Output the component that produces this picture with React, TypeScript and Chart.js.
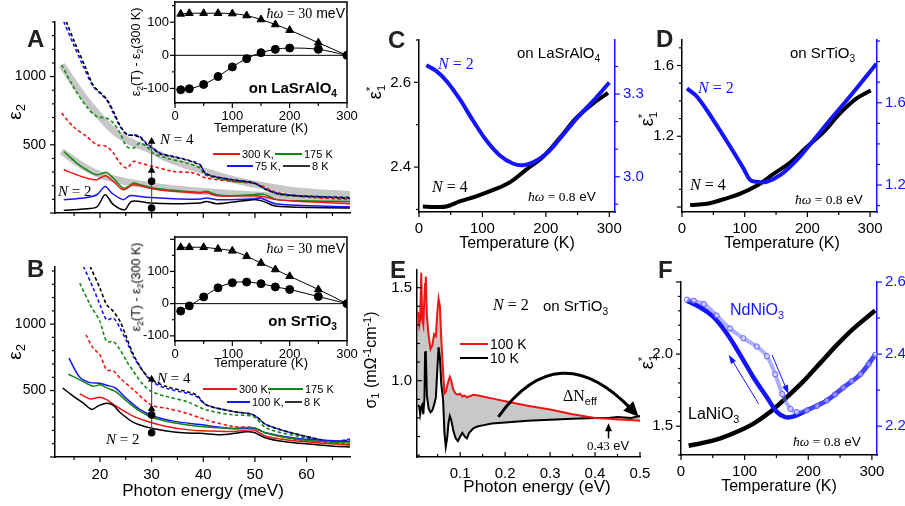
import React, { useEffect, useRef } from 'react';
import { Chart, registerables } from 'chart.js';

Chart.register(...registerables);

const SANS = '"Liberation Sans", Arial, Helvetica, sans-serif';
const SERIF = '"Liberation Serif", "Times New Roman", serif';
const RED = '#f01414';
const GREEN = '#108a10';
const BLUE = '#1414ff';
const GRAYFIT = '#c6c6c6';

type P = [number, number];

// ---------- Panel A (LaSrAlO4), eps2 vs photon energy (meV) ----------
const A_N2_300K: P[] = [[13, 317], [15.5, 280], [17.4, 256], [19.4, 244], [21, 273], [22.6, 232], [24.5, 171], [26.5, 207], [30.3, 176], [34.2, 159], [39.4, 146], [40.6, 150], [42.6, 127], [49.7, 127], [51.6, 120], [54.2, 98], [58.7, 85], [68.4, 68]];
const A_N2_175K: P[] = [[13, 451], [15.5, 366], [17.4, 317], [19.4, 280], [20.6, 293], [21.3, 298], [22.6, 256], [24.5, 183], [25.5, 195], [26.5, 220], [27.7, 207], [30.3, 183], [34.2, 166], [39.4, 151], [40.6, 159], [42.6, 134], [45.8, 127], [49.7, 134], [51.6, 139], [54.2, 98], [58.7, 90], [68.4, 85]];
const A_N2_75K: P[] = [[13, 98], [16.8, 110], [19.4, 134], [21, 195], [22.3, 146], [24.5, 98], [25.8, 127], [29, 115], [34.2, 105], [39.4, 102], [40.6, 110], [42.6, 98], [49.7, 102], [51, 110], [54.2, 66], [68.4, 44]];
const A_N2_8K: P[] = [[13, 20], [16.8, 29], [19.4, 44], [21, 134], [22.6, 61], [24.8, 24], [26.1, 85], [29.7, 73], [34.2, 68], [39.4, 73], [40.6, 85], [42.6, 68], [49.7, 98], [51.6, 85], [54.2, 49], [68.4, 37]];
const A_N4_300K: P[] = [[12.6, 732], [14.8, 634], [17.4, 561], [19.4, 500], [21.3, 488], [22.6, 439], [23.9, 366], [25.2, 329], [26.5, 378], [27.7, 366], [30.3, 341], [34.2, 305], [38.1, 293], [40.6, 256], [45.8, 232], [50.9, 207], [53.5, 159], [58.7, 122], [68.4, 98]];
const A_N4_175K: P[] = [[12.6, 1085], [14.8, 927], [17.4, 780], [19.4, 707], [21.3, 695], [22.6, 659], [23.9, 585], [25.2, 488], [26.5, 476], [27.7, 512], [29, 488], [30.3, 439], [32.9, 402], [36.8, 366], [39.4, 329], [40.3, 280], [45.8, 232], [49.7, 220], [52.3, 171], [54.8, 134], [58.7, 122], [68.4, 117]];
const A_N4_75K: P[] = [[13, 1402], [14.8, 1244], [16.8, 1073], [18.7, 927], [20, 878], [21.3, 829], [22.6, 732], [23.9, 634], [25.2, 573], [26.5, 573], [27.7, 561], [29, 512], [30.3, 476], [31.6, 439], [34.2, 415], [36.8, 390], [39.4, 354], [40.3, 293], [41.9, 268], [45.8, 244], [49.7, 220], [52.3, 171], [54.8, 141], [58.7, 127], [65.2, 117], [68.4, 110]];
const A_N4_8K: P[] = [[13.5, 1402], [15, 1260], [17, 1085], [18.7, 935], [20, 885], [21.3, 835], [22.6, 745], [23.9, 640], [25.2, 578], [26.5, 568], [27.7, 556], [29, 505], [30.3, 470], [31.6, 435], [34.2, 412], [36.8, 388], [39.4, 350], [40.3, 295], [41.9, 270], [45.8, 242], [49.7, 222], [52.3, 168], [54.8, 139], [58.7, 125], [65.2, 114], [68.4, 107]];
const A_FIT_N4: P[] = [[12.6, 1085], [16.8, 854], [20, 707], [23.2, 585], [26.5, 512], [29.7, 463], [32.9, 402], [39.4, 317], [45.8, 244], [52.3, 195], [58.7, 159], [68.4, 134]];
const A_FIT_N2: P[] = [[12.6, 451], [16.8, 341], [20, 280], [23.2, 244], [26.5, 220], [32.9, 183], [39.4, 159], [45.8, 141], [52.3, 127], [58.7, 110], [68.4, 98]];
const A_MARK: P[] = [[30, 524], [30, 312], [30, 232], [30, 37]];

// ---------- Panel B (SrTiO3) ----------
const B_N2_300K: P[] = [[16.1, 475], [18.1, 437], [20, 450], [21.3, 432], [23.2, 380], [26.4, 308], [29.7, 262], [32.9, 230], [36.8, 206], [39.4, 198], [45.8, 192], [49.7, 203], [52.3, 155], [58.7, 118], [68.4, 90]];
const B_N2_175K: P[] = [[13.9, 623], [15.6, 590], [17.4, 555], [18.7, 532], [20, 543], [21.3, 520], [22.9, 495], [25.2, 420], [27.7, 345], [30.3, 295], [34.2, 258], [39.4, 230], [45.8, 216], [49.7, 221], [52.3, 178], [58.7, 130], [68.4, 105]];
const B_N2_100K: P[] = [[14, 744], [16.1, 600], [18.1, 560], [20, 555], [21.3, 540], [22.9, 522], [25.2, 438], [27.7, 358], [30.3, 308], [34.2, 270], [39.4, 244], [45.8, 213], [49.7, 216], [52.3, 180], [58.7, 138], [68.4, 118]];
const B_N2_8K: P[] = [[12.8, 518], [14.5, 468], [16.8, 405], [18.4, 358], [19.7, 385], [21.3, 405], [22.6, 388], [23.9, 335], [26.4, 262], [29, 226], [32.9, 196], [36.8, 180], [39.4, 178], [43.2, 168], [45.8, 176], [48.4, 190], [49.7, 186], [52.3, 141], [55.5, 116], [58.7, 103], [65.2, 80], [68.4, 75]];
const B_N4_300K: P[] = [[17.3, 920], [18.7, 819], [20, 769], [21.3, 656], [22.6, 648], [23.9, 593], [26.5, 505], [30, 390], [32.9, 367], [36.8, 329], [40.6, 279], [45.8, 229], [49.7, 221], [52.3, 178], [58.7, 128], [68.4, 95]];
const B_N4_175K: P[] = [[16.1, 1309], [18.1, 1146], [20, 1020], [21.3, 869], [22.6, 869], [23.9, 807], [25.2, 719], [26.5, 643], [28.4, 543], [30, 492], [32.9, 455], [36.8, 417], [40.6, 354], [45.8, 317], [49.7, 304], [52.3, 216], [58.7, 153], [65.2, 111], [68.4, 121]];
const B_N4_100K: P[] = [[16.8, 1435], [18.7, 1271], [20, 1146], [21.3, 1033], [22.6, 1045], [23.9, 970], [25.2, 869], [26.5, 756], [28.4, 643], [30, 568], [32.9, 517], [36.8, 480], [38.7, 455], [40.6, 392], [45.8, 342], [49.7, 317], [52.3, 241], [58.7, 166], [65.2, 116], [68.4, 136]];
const B_N4_8K: P[] = [[18.1, 1435], [20, 1271], [21.3, 1146], [22.6, 1096], [23.9, 1020], [25.2, 895], [26.5, 769], [28.4, 643], [30, 580], [32.9, 530], [36.8, 492], [38.7, 467], [40.6, 392], [45.8, 342], [49.7, 317], [52.3, 241], [58.7, 166], [65.2, 116], [68.4, 128]];
const B_MARK: P[] = [[30, 585], [30, 362], [30, 317], [30, 182]];
const MARK_STYLES = ['triangle', 'triangle', 'circle', 'circle'];

const AB_X_TICKS = [20, 30, 40, 50, 60];
const AB_Y_TICKS = [500, 1000];

// ---------- Insets: eps2(T) - eps2(300 K) at 30 meV ----------
const INSET_T = [10, 25, 50, 75, 100, 125, 150, 175, 200, 250, 300];
const IA_N4 = [125, 127, 127, 127, 126, 120, 108, 93, 76, 38, 0];
const IA_N2 = [-104, -101, -88, -64, -35, -10, 8, 18, 22, 18, 0];
const IB_N4 = [175, 175, 175, 170, 164, 147, 126, 106, 85, 44, 0];
const IB_N2 = [-23, -7, 21, 49, 65, 67, 62, 52, 44, 22, 0];
const INSET_X_TICKS = [0, 100, 200, 300];
const INSET_Y_TICKS = [-100, 0, 100];

// ---------- Panel C (LaSrAlO4) eps1* at 0.8 eV ----------
const C_N4: P[] = [[6, 2.307], [25, 2.306], [43, 2.307], [64, 2.319], [90, 2.331], [117, 2.346], [143, 2.364], [169, 2.394], [196, 2.425], [222, 2.469], [248, 2.516], [275, 2.551], [298, 2.575]];
const C_N2: P[] = [[11.6, 3.404], [27, 3.384], [43, 3.348], [64, 3.282], [85, 3.204], [106, 3.132], [127, 3.078], [148, 3.048], [164, 3.042], [180, 3.052], [201, 3.084], [222, 3.138], [248, 3.21], [275, 3.276], [300, 3.342]];
const CD_X_TICKS = [0, 100, 200, 300];
const C_YL_TICKS = [2.4, 2.6];
const C_YR_TICKS = [3.0, 3.3];

// ---------- Panel D (SrTiO3) ----------
const D_N4: P[] = [[13, 0.811], [40, 0.819], [66, 0.844], [93, 0.876], [119, 0.92], [146, 0.987], [173, 1.053], [199, 1.139], [226, 1.225], [252, 1.33], [279, 1.415], [301, 1.459]];
const D_N2: P[] = [[8, 1.67], [24, 1.629], [50, 1.516], [77, 1.386], [98, 1.281], [109, 1.224], [119, 1.216], [135, 1.216], [157, 1.249], [183, 1.321], [210, 1.419], [236, 1.516], [263, 1.613], [289, 1.71], [310, 1.79]];
const D_YL_TICKS = [1.2, 1.6];
const D_YR_TICKS = [1.2, 1.6];

// ---------- Panel E: sigma1 vs photon energy (eV) ----------
const E_X = [0.006, 0.009, 0.011, 0.0135, 0.0155, 0.018, 0.0205, 0.022, 0.0235, 0.026, 0.03, 0.034, 0.038, 0.042, 0.046, 0.049, 0.052, 0.055, 0.058, 0.062, 0.065, 0.068, 0.071, 0.074, 0.077, 0.08, 0.085, 0.09, 0.095, 0.1, 0.105, 0.11, 0.115, 0.12, 0.13, 0.14, 0.15, 0.17, 0.2, 0.25, 0.3, 0.35, 0.4, 0.43, 0.45, 0.48, 0.5];
const E_100K = [1.37, 1.3, 1.33, 1.58, 1.33, 1.3, 1.45, 1.52, 1.56, 1.35, 1.24, 1.17, 1.19, 1.25, 1.24, 1.36, 1.44, 1.4, 1.22, 1.05, 0.93, 0.94, 0.97, 1.0, 1.02, 1.0, 0.95, 0.93, 0.925, 0.93, 0.915, 0.92, 0.91, 0.915, 0.925, 0.92, 0.915, 0.905, 0.89, 0.865, 0.845, 0.82, 0.8, 0.795, 0.792, 0.789, 0.785];
const E_10K = [0.87, 0.86, 0.82, 0.86, 0.87, 0.82, 0.9, 1.15, 1.16, 0.92, 0.85, 0.83, 0.84, 0.87, 0.91, 1.05, 1.18, 1.12, 0.98, 0.9, 0.72, 0.645, 0.69, 0.77, 0.81, 0.79, 0.73, 0.69, 0.675, 0.7, 0.72, 0.7, 0.69, 0.72, 0.745, 0.755, 0.76, 0.77, 0.775, 0.785, 0.79, 0.795, 0.8, 0.8, 0.805, 0.8, 0.81];
const E_X_TICKS = [0.1, 0.2, 0.3, 0.4, 0.5];
const E_Y_TICKS = [1.0, 1.5];
const E_ARC: P[] = [[0.185, 0.806], [0.33, 1.03], [0.497, 0.806]];
const E_MARK: P[] = [[0.43, 0.69], [0.43, 0.772]];

// ---------- Panel F: LaNiO3 / NdNiO3 ----------
const F_LA: P[] = [[12, 1.364], [36, 1.386], [62, 1.416], [88, 1.461], [114, 1.518], [140, 1.598], [166, 1.7], [193, 1.814], [219, 1.939], [245, 2.064], [271, 2.177], [305, 2.302]];
const F_ND_COOL: P[] = [[9.4, 2.548], [30, 2.53], [51, 2.503], [72, 2.457], [93, 2.398], [114, 2.335], [135, 2.28], [151, 2.239], [164, 2.225], [177, 2.227], [198, 2.244], [229, 2.271], [255, 2.307], [282, 2.344], [305, 2.398]];
const F_ND_HEAT: P[] = [[9.4, 2.551], [20, 2.548], [36, 2.539], [56, 2.507], [77, 2.471], [98, 2.444], [119, 2.421], [135, 2.394], [148, 2.344], [159, 2.289], [172, 2.248], [182, 2.239], [198, 2.244], [214, 2.256], [229, 2.271], [242, 2.288], [255, 2.307], [268, 2.325], [282, 2.344], [295, 2.372], [305, 2.398]];
const F_YL_TICKS = [1.5, 2.0];
const F_YR_TICKS = [2.2, 2.4, 2.6];
const F_ARROW_COOL: P[] = [[122, 1.655], [75, 1.995]];
const F_ARROW_HEAT: P[] = [[143, 1.995], [169, 1.723]];

// ================= helpers =================
const pts = (a: P[]) => a.map(([x, y]) => ({ x, y }));
const zipPts = (xs: number[], ys: number[]) => xs.map((x, i) => ({ x, y: ys[i] }));

type Geo = { x: number; y: number; w: number; h: number; mt: number; padRight: number; ml: number; mr: number; mb: number };
function geo(L: number, T: number, R: number, B: number, ml: number, mr: number, mt: number, mb: number, rightAxis = false): Geo {
  return { x: L - ml, y: T - mt, w: R - L + ml + mr, h: B - T + mt + mb, mt, padRight: rightAxis ? 0 : mr, ml, mr, mb };
}

function axis(o: { pos: 'left' | 'right' | 'bottom'; min: number; max: number; ticks: number[]; dec: number; size: number; color?: string; show?: boolean; pad?: number; fs?: number }) {
  const color = o.color || '#000';
  return {
    type: 'linear',
    position: o.pos,
    min: o.min,
    max: o.max,
    grid: { display: true, drawOnChartArea: false, drawTicks: false, color: 'rgba(0,0,0,0)' },
    border: { display: true, color, width: 1.5 },
    ticks: {
      display: o.show !== false,
      color,
      padding: o.pad ?? 8,
      autoSkip: false,
      maxRotation: 0,
      minRotation: 0,
      includeBounds: false,
      font: { family: SANS, size: o.fs ?? 15 },
      callback: (v: number) => Number(v).toFixed(o.dec),
    },
    afterBuildTicks: (s: any) => {
      s.ticks = o.ticks.map((value) => ({ value }));
    },
    afterFit: (s: any) => {
      if (o.pos === 'bottom') s.height = o.size;
      else s.width = o.size;
    },
  };
}

type TickSpec = { id: string; pos: 'left' | 'right' | 'bottom'; minor: number; major: number; dir?: 'in' | 'out'; color?: string };
function tickMarks(specs: TickSpec[]) {
  return {
    id: 'tickMarks',
    afterDraw(chart: any) {
      const ctx = chart.ctx;
      const ca = chart.chartArea;
      ctx.save();
      for (const s of specs) {
        const sc = chart.scales[s.id];
        if (!sc) continue;
        ctx.strokeStyle = s.color || '#000';
        ctx.lineWidth = 1.2;
        const start = Math.ceil((sc.min - 1e-9) / s.minor);
        for (let i = start; i * s.minor <= sc.max + 1e-9; i++) {
          const v = i * s.minor;
          const r = v / s.major;
          const major = Math.abs(r - Math.round(r)) < 1e-6;
          const len = major ? 5 : 3;
          const sg = s.dir === 'in' ? -1 : 1;
          const p = sc.getPixelForValue(v);
          ctx.beginPath();
          if (s.pos === 'bottom') {
            ctx.moveTo(p, ca.bottom);
            ctx.lineTo(p, ca.bottom + sg * len);
          } else if (s.pos === 'left') {
            ctx.moveTo(ca.left, p);
            ctx.lineTo(ca.left - sg * len, p);
          } else {
            ctx.moveTo(ca.right, p);
            ctx.lineTo(ca.right + sg * len, p);
          }
          ctx.stroke();
        }
      }
      ctx.restore();
    },
  };
}

function arrowHead(ctx: any, x: number, y: number, ang: number, len: number, half: number, color: string) {
  ctx.save();
  ctx.fillStyle = color;
  ctx.beginPath();
  ctx.moveTo(x, y);
  const bx = x - len * Math.cos(ang);
  const by = y - len * Math.sin(ang);
  ctx.lineTo(bx + half * Math.sin(ang), by - half * Math.cos(ang));
  ctx.lineTo(bx - half * Math.sin(ang), by + half * Math.cos(ang));
  ctx.closePath();
  ctx.fill();
  ctx.restore();
}

function straightArrow(chart: any, a: P[], color: string, width: number, len: number, half: number) {
  const sx = chart.scales.x;
  const sy = chart.scales.y;
  const x0 = sx.getPixelForValue(a[0][0]);
  const y0 = sy.getPixelForValue(a[0][1]);
  const x1 = sx.getPixelForValue(a[1][0]);
  const y1 = sy.getPixelForValue(a[1][1]);
  const ang = Math.atan2(y1 - y0, x1 - x0);
  const ctx = chart.ctx;
  ctx.save();
  ctx.strokeStyle = color;
  ctx.lineWidth = width;
  ctx.beginPath();
  ctx.moveTo(x0, y0);
  ctx.lineTo(x1 - (len - 1) * Math.cos(ang), y1 - (len - 1) * Math.sin(ang));
  ctx.stroke();
  ctx.restore();
  arrowHead(ctx, x1, y1, ang, len, half, color);
}

const insetPlugin = {
  id: 'insetFrame',
  beforeDraw(chart: any) {
    const { ctx, chartArea: ca } = chart;
    ctx.save();
    ctx.fillStyle = '#fff';
    ctx.fillRect(ca.left, ca.top, ca.right - ca.left, ca.bottom - ca.top);
    ctx.restore();
  },
  beforeDatasetsDraw(chart: any) {
    const { ctx, chartArea: ca } = chart;
    const y0 = chart.scales.y.getPixelForValue(0);
    ctx.save();
    ctx.strokeStyle = '#000';
    ctx.lineWidth = 1;
    ctx.beginPath();
    ctx.moveTo(ca.left, y0);
    ctx.lineTo(ca.right, y0);
    ctx.stroke();
    ctx.restore();
  },
  afterDraw(chart: any) {
    const { ctx, chartArea: ca } = chart;
    ctx.save();
    ctx.strokeStyle = '#000';
    ctx.lineWidth = 1.5;
    ctx.beginPath();
    ctx.moveTo(ca.left, ca.top);
    ctx.lineTo(ca.right, ca.top);
    ctx.lineTo(ca.right, ca.bottom);
    ctx.stroke();
    ctx.restore();
  },
};

function line(data: any[], color: string, width = 1.5, extra: any = {}) {
  return {
    type: 'line',
    data,
    borderColor: color,
    backgroundColor: color,
    borderWidth: width,
    pointRadius: 0,
    tension: 0.3,
    fill: false,
    yAxisID: 'y',
    ...extra,
  };
}
const dashed = (data: P[], color: string) => line(pts(data), color, 1.6, { borderDash: [3.5, 2.5] });

function makeConfig(g: Geo, datasets: any[], scales: any, plugins: any[]) {
  return {
    type: 'line',
    data: { datasets },
    options: {
      animation: false,
      responsive: false,
      events: [],
      devicePixelRatio: 1,
      layout: { padding: { top: g.mt, right: g.padRight, left: 0, bottom: 0 } },
      plugins: {
        legend: { display: false },
        tooltip: { enabled: false },
        title: { display: false },
        filler: { drawTime: 'beforeDatasetsDraw' },
      },
      scales,
    },
    plugins,
  };
}

function Panel({ g, make }: { g: Geo; make: () => any }) {
  const ref = useRef<HTMLCanvasElement>(null);
  useEffect(() => {
    const ch = new Chart(ref.current as HTMLCanvasElement, make());
    return () => ch.destroy();
  }, []);
  return <canvas ref={ref} width={g.w} height={g.h} style={{ position: 'absolute', left: g.x, top: g.y, width: g.w, height: g.h }} />;
}

// ================= text helpers =================
function Tx({ x, y, s = 15, a = 'l', c = '#000', w = false, f = SANS, children }: any) {
  const style: React.CSSProperties = {
    position: 'absolute',
    left: x,
    top: y - 0.85 * s,
    fontSize: s,
    lineHeight: `${s}px`,
    fontFamily: f,
    color: c,
    fontWeight: w ? 700 : 400,
    whiteSpace: 'nowrap',
    transform: a === 'c' ? 'translateX(-50%)' : a === 'r' ? 'translateX(-100%)' : undefined,
  };
  return <div style={style}>{children}</div>;
}
function VTx({ x, y, s = 16, c = '#000', children }: any) {
  return (
    <div
      style={{
        position: 'absolute',
        left: x,
        top: y,
        fontSize: s,
        lineHeight: `${s + 4}px`,
        fontFamily: SANS,
        color: c,
        whiteSpace: 'nowrap',
        transform: 'translate(-50%, -50%) rotate(-90deg)',
      }}
    >
      {children}
    </div>
  );
}
const Sub = ({ children }: any) => <span style={{ fontSize: '0.68em', position: 'relative', top: '0.32em' }}>{children}</span>;
const Sup = ({ children }: any) => <span style={{ fontSize: '0.68em', position: 'relative', top: '-0.5em' }}>{children}</span>;
const Eps1 = () => (
  <span>
    ε
    <span style={{ position: 'relative', display: 'inline-block' }}>
      <span style={{ fontSize: '0.65em', position: 'relative', top: '0.35em' }}>1</span>
      <span style={{ fontSize: '0.65em', position: 'absolute', left: 0, top: '-0.45em' }}>*</span>
    </span>
  </span>
);
const NEq = ({ n }: { n: number }) => (
  <span style={{ fontFamily: SERIF }}>
    <i>N</i> = {n}
  </span>
);
const HW = ({ v }: { v: string }) => (
  <span>
    <span style={{ fontFamily: SERIF }}>
      <i>ħω</i> = {v}
    </span>{' '}
    {v === '30' ? 'meV' : 'eV'}
  </span>
);
function Ln({ x1, x2, y, c, h = 2 }: any) {
  return <div style={{ position: 'absolute', left: x1, top: y - h / 2, width: x2 - x1, height: h, background: c }} />;
}

// ================= geometries =================
const GA = geo(55, 22, 350, 213, 50, 20, 25, 25);
const GB = geo(55, 267, 350, 457, 50, 20, 25, 30);
const GIA = geo(175, 2, 347, 103, 36, 25, 25, 25);
const GIB = geo(175, 237, 347, 341, 36, 25, 25, 25);
const GC = geo(419, 40, 615, 212, 40, 32, 25, 25, true);
const GD = geo(682, 40, 877, 212, 40, 28, 25, 25, true);
const GE = geo(417, 270, 640, 457, 40, 25, 25, 25);
const GF = geo(681, 282, 877, 455, 40, 28, 25, 25, true);

const markDs = (m: P[]) =>
  line(pts(m), '#555', 1.2, {
    tension: 0,
    pointStyle: MARK_STYLES,
    pointRadius: 3.2,
    pointBackgroundColor: '#000',
    pointBorderColor: '#000',
  });

function makeA(g: Geo, isB: boolean) {
  const ds = isB
    ? [
        markDs(B_MARK),
        line(pts(B_N2_8K), '#000'),
        line(pts(B_N2_300K), RED),
        line(pts(B_N2_175K), GREEN),
        line(pts(B_N2_100K), BLUE),
        dashed(B_N4_8K, '#000'),
        dashed(B_N4_100K, BLUE),
        dashed(B_N4_175K, GREEN),
        dashed(B_N4_300K, RED),
      ]
    : [
        markDs(A_MARK),
        line(pts(A_N2_8K), '#000'),
        line(pts(A_N2_75K), BLUE),
        line(pts(A_N2_300K), RED),
        line(pts(A_N2_175K), GREEN),
        dashed(A_N4_8K, '#000'),
        dashed(A_N4_75K, BLUE),
        dashed(A_N4_175K, GREEN),
        dashed(A_N4_300K, RED),
        line(pts(A_FIT_N4), GRAYFIT, 7, { order: 10, tension: 0.4 }),
        line(pts(A_FIT_N2), GRAYFIT, 7, { order: 10, tension: 0.4 }),
      ];
  const scales = {
    x: axis({ pos: 'bottom', min: 11.3, max: 68.4, ticks: AB_X_TICKS, dec: 0, size: g.mb, show: isB, pad: 9 }),
    y: axis({ pos: 'left', min: 0, max: isB ? 1430 : 1400, ticks: AB_Y_TICKS, dec: 0, size: g.ml, pad: 9, fs: 14 }),
  };
  return makeConfig(g, ds, scales, [
    tickMarks([
      { id: 'x', pos: 'bottom', minor: 5, major: 10 },
      { id: 'y', pos: 'left', minor: 100, major: 500 },
    ]),
  ]);
}

function makeInset(g: Geo, n4: number[], n2: number[], ymin: number, ymax: number) {
  const ds = [
    line(zipPts(INSET_T, n4), '#000', 1, { pointStyle: 'triangle', pointRadius: 4.5, pointBackgroundColor: '#000', pointBorderColor: '#000', tension: 0.35 }),
    line(zipPts(INSET_T, n2), '#000', 1, { pointStyle: 'circle', pointRadius: 4, pointBackgroundColor: '#000', pointBorderColor: '#000', tension: 0.35 }),
  ];
  const scales = {
    x: axis({ pos: 'bottom', min: 0, max: 300, ticks: INSET_X_TICKS, dec: 0, size: g.mb, fs: 13, pad: 6 }),
    y: axis({ pos: 'left', min: ymin, max: ymax, ticks: INSET_Y_TICKS, dec: 0, size: g.ml, fs: 13, pad: 6 }),
  };
  return makeConfig(g, ds, scales, [
    insetPlugin,
    tickMarks([
      { id: 'x', pos: 'bottom', minor: 50, major: 100 },
      { id: 'y', pos: 'left', minor: 50, major: 100 },
    ]),
  ]);
}

function makeCD(g: Geo, n4: P[], n2: P[], yl: [number, number], yr: [number, number], ylt: number[], yrt: number[], ylMaj: number, yrMaj: number) {
  const ds = [
    line(pts(n2), BLUE, 4, { yAxisID: 'y1', tension: 0.35 }),
    line(pts(n4), '#000', 4, { tension: 0.35 }),
  ];
  const scales = {
    x: axis({ pos: 'bottom', min: 0, max: g === GC ? 309 : 311, ticks: CD_X_TICKS, dec: 0, size: g.mb, pad: 8 }),
    y: axis({ pos: 'left', min: yl[0], max: yl[1], ticks: ylt, dec: 1, size: g.ml, pad: 8 }),
    y1: axis({ pos: 'right', min: yr[0], max: yr[1], ticks: yrt, dec: 1, size: g.mr, color: BLUE, pad: 8 }),
  };
  return makeConfig(g, ds, scales, [
    tickMarks([
      { id: 'x', pos: 'bottom', minor: 50, major: 100 },
      { id: 'y', pos: 'left', minor: 0.1, major: ylMaj },
      { id: 'y1', pos: 'right', minor: 0.1, major: yrMaj, color: BLUE },
    ]),
  ]);
}

function makeE(g: Geo) {
  const ds = [
    line(zipPts(E_X, E_100K), RED, 2, { tension: 0, fill: '+1', backgroundColor: '#c8c8c8' }),
    line(zipPts(E_X, E_10K), '#000', 2, { tension: 0 }),
  ];
  const scales = {
    x: axis({ pos: 'bottom', min: 0.004, max: 0.5, ticks: E_X_TICKS, dec: 1, size: g.mb, pad: 8 }),
    y: axis({ pos: 'left', min: 0.59, max: 1.595, ticks: E_Y_TICKS, dec: 1, size: g.ml, pad: 5 }),
  };
  const extra = {
    id: 'eArrows',
    afterDatasetsDraw(chart: any) {
      const sx = chart.scales.x;
      const sy = chart.scales.y;
      const p = E_ARC.map(([x, y]) => [sx.getPixelForValue(x), sy.getPixelForValue(y)]);
      const cx = 2 * p[1][0] - 0.5 * (p[0][0] + p[2][0]);
      const cy = 2 * p[1][1] - 0.5 * (p[0][1] + p[2][1]);
      const ang = Math.atan2(p[2][1] - cy, p[2][0] - cx);
      const ctx = chart.ctx;
      ctx.save();
      ctx.strokeStyle = '#000';
      ctx.lineWidth = 3;
      ctx.beginPath();
      ctx.moveTo(p[0][0], p[0][1]);
      ctx.quadraticCurveTo(cx, cy, p[2][0] - 10 * Math.cos(ang), p[2][1] - 10 * Math.sin(ang));
      ctx.stroke();
      ctx.restore();
      arrowHead(ctx, p[2][0], p[2][1], ang, 15, 7, '#000');
      straightArrow(chart, E_MARK, '#000', 1.5, 8, 3.5);
    },
  };
  return makeConfig(g, ds, scales, [
    extra,
    tickMarks([
      { id: 'x', pos: 'bottom', minor: 0.05, major: 0.1, dir: 'in' },
      { id: 'y', pos: 'left', minor: 0.1, major: 0.5, dir: 'in' },
    ]),
  ]);
}

function makeF(g: Geo) {
  const ds = [
    line(pts(F_ND_HEAT), 'rgba(110,110,255,0.55)', 4, {
      yAxisID: 'y1',
      tension: 0.35,
      pointStyle: 'circle',
      pointRadius: 2.6,
      pointBorderWidth: 1,
      pointBorderColor: 'rgba(70,70,255,0.85)',
      pointBackgroundColor: 'rgba(255,255,255,0.4)',
    }),
    line(pts(F_ND_COOL), BLUE, 4.5, { yAxisID: 'y1', tension: 0.35 }),
    line(pts(F_LA), '#000', 4.5, { tension: 0.35 }),
  ];
  const scales = {
    x: axis({ pos: 'bottom', min: 0, max: 308, ticks: CD_X_TICKS, dec: 0, size: g.mb, pad: 8 }),
    y: axis({ pos: 'left', min: 1.3, max: 2.5, ticks: F_YL_TICKS, dec: 1, size: g.ml, pad: 8 }),
    y1: axis({ pos: 'right', min: 2.12, max: 2.6, ticks: F_YR_TICKS, dec: 1, size: g.mr, color: BLUE, pad: 8 }),
  };
  const extra = {
    id: 'fArrows',
    afterDatasetsDraw(chart: any) {
      straightArrow(chart, F_ARROW_COOL, BLUE, 1, 9, 3);
      straightArrow(chart, F_ARROW_HEAT, BLUE, 1, 9, 3);
    },
  };
  return makeConfig(g, ds, scales, [
    extra,
    tickMarks([
      { id: 'x', pos: 'bottom', minor: 50, major: 100 },
      { id: 'y', pos: 'left', minor: 0.1, major: 0.5 },
      { id: 'y1', pos: 'right', minor: 0.1, major: 0.2, color: BLUE },
    ]),
  ]);
}

export default function App() {
  return (
    <div style={{ position: 'absolute', left: 0, top: 0, width: 905, height: 506, background: '#fff', overflow: 'hidden', fontFamily: SANS }}>
      <Panel g={GA} make={() => makeA(GA, false)} />
      <Panel g={GB} make={() => makeA(GB, true)} />
      <Panel g={GIA} make={() => makeInset(GIA, IA_N4, IA_N2, -144, 161)} />
      <Panel g={GIB} make={() => makeInset(GIB, IB_N4, IB_N2, -116, 207)} />
      <Panel g={GC} make={() => makeCD(GC, C_N4, C_N2, [2.294, 2.7], [2.872, 3.496], C_YL_TICKS, C_YR_TICKS, 0.2, 0.3)} />
      <Panel g={GD} make={() => makeCD(GD, D_N4, D_N2, [0.772, 1.744], [1.069, 1.905], D_YL_TICKS, D_YR_TICKS, 0.4, 0.4)} />
      <Panel g={GE} make={() => makeE(GE)} />
      <Panel g={GF} make={() => makeF(GF)} />

      {/* panel letters */}
      <Tx x={27} y={47} s={24} w c="#222">A</Tx>
      <Tx x={27} y={277} s={24} w c="#222">B</Tx>
      <Tx x={388} y={48} s={24} w c="#222">C</Tx>
      <Tx x={656} y={47} s={24} w c="#222">D</Tx>
      <Tx x={390} y={278} s={24} w c="#222">E</Tx>
      <Tx x={658} y={278} s={24} w c="#222">F</Tx>

      {/* Panel A */}
      <VTx x={15} y={112} s={19}>
        ε<Sub>2</Sub>
      </VTx>
      <Tx x={160} y={144} s={15}><NEq n={4} /></Tx>
      <Tx x={58} y={196} s={15}><NEq n={2} /></Tx>
      <Ln x1={213} x2={240} y={154} c={RED} />
      <Tx x={242} y={158.5} s={11}>300 K,</Tx>
      <Ln x1={275} x2={302} y={154} c={GREEN} />
      <Tx x={304} y={158.5} s={11}>175 K</Tx>
      <Ln x1={227} x2={253} y={166} c={BLUE} />
      <Tx x={255} y={170.5} s={11}>75 K,</Tx>
      <Ln x1={283} x2={310} y={166} c="#333" />
      <Tx x={312} y={170.5} s={11}>8 K</Tx>
      <Tx x={345} y={18} s={14} a="r"><HW v="30" /></Tx>
      <Tx x={337} y={93} s={15} a="r" w>
        on LaSrAlO<Sub>4</Sub>
      </Tx>
      <VTx x={137} y={52} s={12.5}>
        ε<Sub>2</Sub>(T) - ε<Sub>2</Sub>(300 K)
      </VTx>
      <Tx x={261} y={132} s={13} a="c">Temperature (K)</Tx>

      {/* Panel B */}
      <VTx x={15} y={352} s={19}>
        ε<Sub>2</Sub>
      </VTx>
      <Tx x={157} y={383} s={15}><NEq n={4} /></Tx>
      <Tx x={106} y={444} s={15}><NEq n={2} /></Tx>
      <Ln x1={203} x2={237} y={389} c={RED} />
      <Tx x={239} y={393.5} s={11}>300 K,</Tx>
      <Ln x1={268} x2={303} y={389} c={GREEN} />
      <Tx x={305} y={393.5} s={11}>175 K</Tx>
      <Ln x1={227} x2={250} y={401.5} c={BLUE} />
      <Tx x={252} y={406} s={11}>100 K,</Tx>
      <Ln x1={285} x2={302} y={401.5} c="#333" />
      <Tx x={304} y={406} s={11}>8 K</Tx>
      <Tx x={345} y={253} s={14} a="r"><HW v="30" /></Tx>
      <Tx x={337} y={326} s={15} a="r" w>
        on SrTiO<Sub>3</Sub>
      </Tx>
      <VTx x={137} y={287} s={12.5}>
        ε<Sub>2</Sub>(T) - ε<Sub>2</Sub>(300 K)
      </VTx>
      <Tx x={261} y={367} s={13} a="c">Temperature (K)</Tx>
      <Tx x={203} y={496} s={17} a="c">Photon energy (meV)</Tx>

      {/* Panel C */}
      <VTx x={376} y={92} s={18}><Eps1 /></VTx>
      <Tx x={517} y={58} s={15}>
        on LaSrAlO<Sub>4</Sub>
      </Tx>
      <Tx x={438} y={70} s={16} c={BLUE}><NEq n={2} /></Tx>
      <Tx x={432} y={193} s={16}><NEq n={4} /></Tx>
      <Tx x={528} y={201} s={13.5}><HW v="0.8" /></Tx>
      <Tx x={517} y={249} s={16} a="c">Temperature (K)</Tx>

      {/* Panel D */}
      <VTx x={648} y={119} s={18}><Eps1 /></VTx>
      <Tx x={790} y={58} s={15}>
        on SrTiO<Sub>3</Sub>
      </Tx>
      <Tx x={698} y={94} s={16} c={BLUE}><NEq n={2} /></Tx>
      <Tx x={690} y={191} s={16}><NEq n={4} /></Tx>
      <Tx x={795} y={204} s={13.5}><HW v="0.8" /></Tx>
      <Tx x={782} y={249} s={16} a="c">Temperature (K)</Tx>

      {/* Panel E */}
      <VTx x={371} y={360} s={16}>
        σ<Sub>1</Sub> (mΩ<Sup>-1</Sup>cm<Sup>-1</Sup>)
      </VTx>
      <Tx x={493} y={311} s={16}><NEq n={2} /></Tx>
      <Tx x={543} y={311} s={15}>
        on SrTiO<Sub>3</Sub>
      </Tx>
      <Ln x1={460} x2={488} y={344} c={RED} />
      <Tx x={490} y={349} s={14}>100 K</Tx>
      <Ln x1={460} x2={488} y={358} c="#000" />
      <Tx x={490} y={363} s={14}>10 K</Tx>
      <Tx x={563} y={402} s={16}>
        <span style={{ fontFamily: SERIF }}>ΔN</span>
        <Sub>eff</Sub>
      </Tx>
      <Tx x={587} y={450} s={13}>
        <span style={{ fontFamily: SERIF }}>0.43</span> eV
      </Tx>
      <Tx x={537} y={492} s={17} a="c">Photon energy (eV)</Tx>

      {/* Panel F */}
      <VTx x={648} y={362} s={18}><Eps1 /></VTx>
      <Tx x={730} y={316} s={16} c={BLUE}>
        NdNiO<Sub>3</Sub>
      </Tx>
      <Tx x={688} y={420} s={16}>
        LaNiO<Sub>3</Sub>
      </Tx>
      <Tx x={793} y={446} s={13.5}><HW v="0.8" /></Tx>
      <Tx x={779} y={492} s={16} a="c">Temperature (K)</Tx>
    </div>
  );
}
